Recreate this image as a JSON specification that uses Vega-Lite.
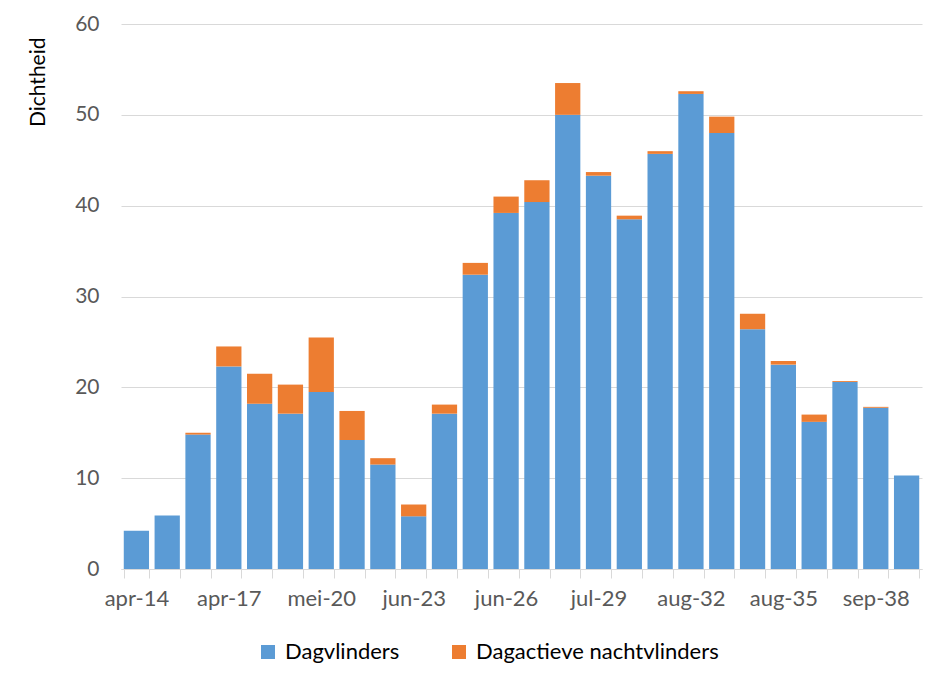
{
  "$schema": "https://vega.github.io/schema/vega-lite/v6.json",
  "width": 801,
  "height": 545,
  "autosize": {"type": "none"},
  "padding": {"left": 121, "top": 24, "right": 18, "bottom": 109},
  "background": "white",
  "config": {
    "font": "Lato",
    "view": {"stroke": null}
  },
  "data": {
    "values": [
      {"week": "apr-14", "Dagvlinders": 4.2, "Dagactieve nachtvlinders": 0},
      {"week": "apr-15", "Dagvlinders": 5.9, "Dagactieve nachtvlinders": 0},
      {"week": "apr-16", "Dagvlinders": 14.8, "Dagactieve nachtvlinders": 0.2},
      {"week": "apr-17", "Dagvlinders": 22.3, "Dagactieve nachtvlinders": 2.2},
      {"week": "mei-18", "Dagvlinders": 18.2, "Dagactieve nachtvlinders": 3.3},
      {"week": "mei-19", "Dagvlinders": 17.1, "Dagactieve nachtvlinders": 3.2},
      {"week": "mei-20", "Dagvlinders": 19.5, "Dagactieve nachtvlinders": 6.0},
      {"week": "mei-21", "Dagvlinders": 14.2, "Dagactieve nachtvlinders": 3.2},
      {"week": "mei-22", "Dagvlinders": 11.5, "Dagactieve nachtvlinders": 0.7},
      {"week": "jun-23", "Dagvlinders": 5.8, "Dagactieve nachtvlinders": 1.3},
      {"week": "jun-24", "Dagvlinders": 17.1, "Dagactieve nachtvlinders": 1.0},
      {"week": "jun-25", "Dagvlinders": 32.4, "Dagactieve nachtvlinders": 1.3},
      {"week": "jun-26", "Dagvlinders": 39.2, "Dagactieve nachtvlinders": 1.8},
      {"week": "jul-27", "Dagvlinders": 40.4, "Dagactieve nachtvlinders": 2.4},
      {"week": "jul-28", "Dagvlinders": 50.0, "Dagactieve nachtvlinders": 3.5},
      {"week": "jul-29", "Dagvlinders": 43.3, "Dagactieve nachtvlinders": 0.4},
      {"week": "jul-30", "Dagvlinders": 38.5, "Dagactieve nachtvlinders": 0.4},
      {"week": "aug-31", "Dagvlinders": 45.7, "Dagactieve nachtvlinders": 0.3},
      {"week": "aug-32", "Dagvlinders": 52.3, "Dagactieve nachtvlinders": 0.3},
      {"week": "aug-33", "Dagvlinders": 48.0, "Dagactieve nachtvlinders": 1.8},
      {"week": "aug-34", "Dagvlinders": 26.4, "Dagactieve nachtvlinders": 1.7},
      {"week": "aug-35", "Dagvlinders": 22.5, "Dagactieve nachtvlinders": 0.4},
      {"week": "sep-36", "Dagvlinders": 16.2, "Dagactieve nachtvlinders": 0.8},
      {"week": "sep-37", "Dagvlinders": 20.6, "Dagactieve nachtvlinders": 0.1},
      {"week": "sep-38", "Dagvlinders": 17.75, "Dagactieve nachtvlinders": 0.1},
      {"week": "sep-39", "Dagvlinders": 10.3, "Dagactieve nachtvlinders": 0}
    ]
  },
  "transform": [
    {"fold": ["Dagvlinders", "Dagactieve nachtvlinders"], "as": ["serie", "dichtheid"]}
  ],
  "mark": {"type": "bar"},
  "encoding": {
    "x": {
      "field": "week",
      "type": "nominal",
      "sort": null,
      "scale": {"paddingInner": 0.18, "paddingOuter": 0.09},
      "axis": {
        "title": null,
        "labelAngle": 0,
        "labelOverlap": false,
        "labelExpr": "toNumber(split(datum.value, '-')[1]) % 3 == 2 ? datum.value : ''",
        "labelFontSize": 22,
        "labelColor": "#595959",
        "labelPadding": 10,
        "tickBand": "extent",
        "tickSize": 9,
        "tickColor": "#d9d9d9",
        "domainColor": "#d9d9d9",
        "grid": false
      }
    },
    "y": {
      "field": "dichtheid",
      "type": "quantitative",
      "stack": "zero",
      "scale": {"domain": [0, 60], "nice": false},
      "axis": {
        "title": "Dichtheid",
        "titleFontSize": 21,
        "titleFontWeight": "normal",
        "titleColor": "#000000",
        "titleAngle": -90,
        "titleX": -77,
        "titleY": 13,
        "titleAlign": "right",
        "titleBaseline": "alphabetic",
        "values": [0, 10, 20, 30, 40, 50, 60],
        "labelFontSize": 21,
        "labelColor": "#595959",
        "labelPadding": 22,
        "ticks": false,
        "domain": false,
        "grid": true,
        "gridColor": "#d9d9d9"
      }
    },
    "color": {
      "field": "serie",
      "type": "nominal",
      "scale": {
        "domain": ["Dagvlinders", "Dagactieve nachtvlinders"],
        "range": ["#5b9bd5", "#ed7d31"]
      },
      "legend": {
        "title": null,
        "orient": "none",
        "direction": "horizontal",
        "legendX": 136,
        "legendY": 617,
        "symbolType": "square",
        "symbolSize": 196,
        "symbolStrokeWidth": 0,
        "labelFontSize": 22,
        "labelLimit": 0,
        "labelColor": "#000000",
        "labelOffset": 6,
        "columnPadding": 48
      }
    },
    "order": {"field": "serie", "sort": "descending"}
  }
}
